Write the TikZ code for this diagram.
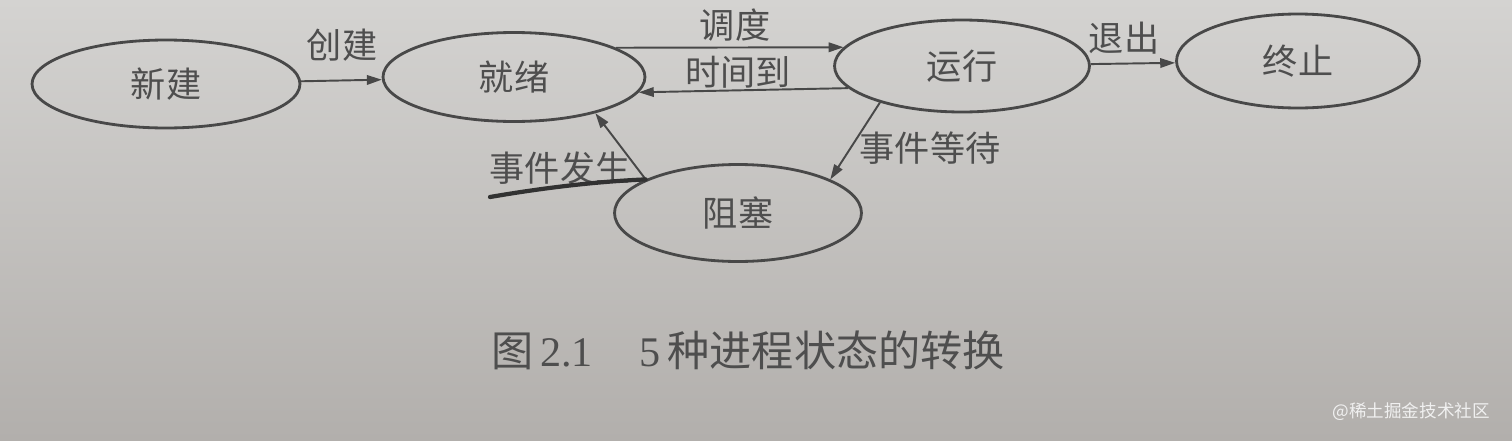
\documentclass[tikz,border=0pt]{standalone}
\usepackage{fontspec}
\setmainfont{Liberation Serif}
\newfontfamily\cjk{Noto Sans CJK SC}
\usetikzlibrary{shapes.geometric,arrows.meta}
\definecolor{paper}{RGB}{212,211,209}
\definecolor{paperdark}{RGB}{178,175,172}
\definecolor{ink}{RGB}{72,72,72}
\definecolor{txt}{RGB}{78,78,78}

\begin{document}
\begin{tikzpicture}[x=0.02cm, y=-0.02cm,
    state/.style={ellipse, draw=ink, line width=1.6pt, inner sep=0pt, text=txt,
      font=\cjk\fontsize{20}{24}\selectfont},
    lbl/.style={text=txt, font=\cjk\fontsize{20}{24}\selectfont, inner sep=1pt},
    trans/.style={draw=ink, line width=1.1pt, -{Triangle[length=3mm,width=1.9mm]}}]
  \useasboundingbox (0,0) rectangle (1512,440);
  \shade[top color=paper, bottom color=paperdark] (0,0) rectangle (1512,440);

  % states
  \node[state, minimum width=5.36cm, minimum height=1.76cm] (xinjian) at (166,84) {新建};
  \node[state, minimum width=5.24cm, minimum height=1.78cm] (jiuxu) at (514,77) {就绪};
  \node[state, minimum width=5.10cm, minimum height=1.84cm] (yunxing) at (962,66) {运行};
  \node[state, minimum width=4.86cm, minimum height=1.88cm] (zhongzhi) at (1298,61) {终止};
  \node[state, minimum width=4.94cm, minimum height=1.94cm] (zuse) at (738,213) {阻塞};

  % transitions
  \draw[trans] (xinjian) -- (jiuxu);
  \draw[trans] (jiuxu.16) -- (yunxing.171);
  \draw[trans] (yunxing.191) -- (jiuxu.-7);
  \draw[trans] (yunxing) -- (zhongzhi);
  \draw[trans] (yunxing.204) -- (zuse.20);
  \draw[trans] (zuse.160) -- (jiuxu.-24);

  % labels
  \node[lbl] (chuangjian) at (342,45) {创建};
  \node[lbl] (diaodu) at (735,25) {调度};
  \node[lbl] (shijiandao) at (738,72) {时间到};
  \node[lbl] (tuichu) at (1124,38) {退出};
  \node[lbl] (dengdai) at (930,148) {事件等待};
  \node[lbl] (fasheng) at (560,168) {事件发生};
  % pen mark under the label
  \draw[line width=2.4pt, ink!70!black, line cap=round] (490,197) .. controls (560,185) and (610,181) .. (zuse.160);

  % caption
  \node[text=txt, font=\fontsize{24}{28}\selectfont] (caption) at (748,350)
    {{\cjk 图}\,2.1\hspace{1.1em}5\,{\cjk 种进程状态的转换}};
  \node[anchor=east, text=white!88!gray, font=\cjk\fontsize{10}{12}\selectfont] (mark) at (1496,412) {@稀土掘金技术社区};
\end{tikzpicture}
\end{document}
